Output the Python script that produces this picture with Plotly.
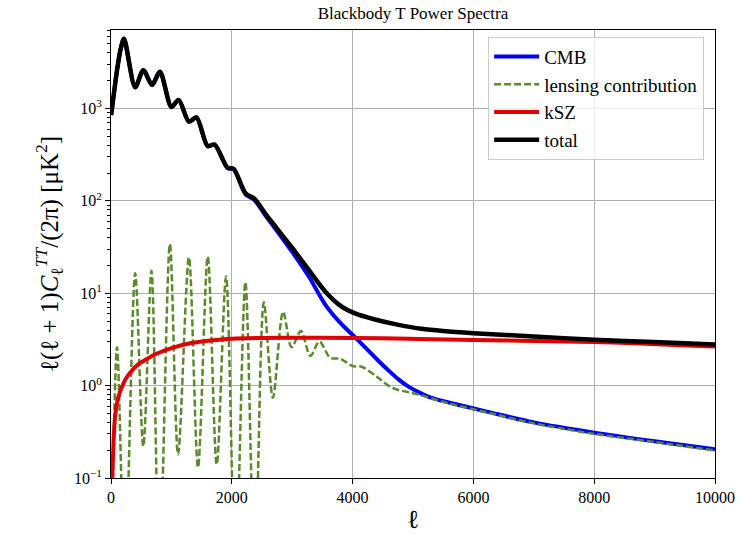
import plotly.graph_objects as go

# ---------------- data ----------------
cmb_ell = [2, 30, 100, 160, 215, 400, 535, 680, 810, 1000, 1120, 1290, 1415, 1600,
           1715, 1930, 2030, 2230, 2370, 2560, 2730, 3000, 3280, 3550, 3820, 4060,
           4430, 4600, 4760, 4920, 5090, 5250, 5420, 5750, 6240, 7000, 8000, 9000, 10000]
cmb_val = [850, 1180, 2600, 4400, 5700, 1700, 2600, 1800, 2500, 1040, 1240, 720, 800, 390,
           405, 226, 220, 117, 103, 69, 49, 28, 15.0, 7.5, 4.6, 3.25,
           1.85, 1.45, 1.17, 0.98, 0.85, 0.76, 0.70, 0.62, 0.52, 0.40, 0.31, 0.25, 0.205]

lens_ell = [5, 100, 230, 400, 535, 670, 800, 975, 1110, 1290, 1440, 1602, 1750, 1905,
            2060, 2225, 2380, 2530, 2680, 2850, 2990, 3145, 3300, 3450, 3630, 3800,
            4000, 4150, 4400, 4650, 5090, 5600, 6240, 7000, 8000, 9000, 10000]
lens_val = [0.01, 2.6, 0.01, 16.5, 0.22, 17.5, 0.01, 34, 0.18, 24.5, 0.13, 25, 0.14, 15.2,
            0.01, 13.2, 0.01, 8.0, 0.74, 6.3, 2.6, 3.9, 2.1, 3.0, 2.0, 1.95,
            1.63, 1.6, 1.25, 0.95, 0.80, 0.64, 0.51, 0.39, 0.30, 0.245, 0.198]

ksz_ell = [5, 30, 66, 120, 176, 250, 340, 450, 600, 724, 1000, 1330, 1700, 2000,
           2800, 3500, 4500, 6000, 8000, 10000]
ksz_val = [0.03, 0.15, 0.45, 0.75, 0.95, 1.2, 1.44, 1.70, 1.95, 2.17, 2.55, 2.89, 3.1, 3.22,
           3.3, 3.3, 3.25, 3.12, 2.97, 2.65]

tot_ell = [2, 30, 100, 160, 215, 400, 535, 680, 810, 1000, 1120, 1290, 1415, 1600,
           1715, 1930, 2030, 2230, 2370, 2560, 2730, 3000, 3280, 3550, 3820, 4040,
           4370, 4760, 5140, 5500, 6000, 7000, 8000, 9000, 10000]
tot_val = [850, 1180, 2600, 4400, 5700, 1700, 2600, 1800, 2500, 1040, 1240, 722, 802, 393,
           408, 229, 223, 120, 106, 72, 52, 31, 17.7, 10.4, 7.15, 6.05,
           5.2, 4.55, 4.12, 3.9, 3.70, 3.41, 3.14, 2.97, 2.78]

x_ticks = [0, 2000, 4000, 6000, 8000, 10000]
x_ticktext = ["0", "2000", "4000", "6000", "8000", "10000"]
y_ticks = [0.1, 1, 10, 100, 1000]
y_ticktext = ["10<sup>\u22121</sup>", "10<sup>0</sup>", "10<sup>1</sup>",
              "10<sup>2</sup>", "10<sup>3</sup>"]

FONT = "Liberation Serif"

fig = go.Figure()
fig.add_trace(go.Scatter(x=cmb_ell, y=cmb_val, mode="lines", name="CMB",
                         line=dict(color="#0000ff", width=4, shape="spline", smoothing=0.8)))
fig.add_trace(go.Scatter(x=lens_ell, y=lens_val, mode="lines", name="lensing contribution",
                         line=dict(color="#5a8a2c", width=2.5, dash="7px,3px",
                                   shape="spline", smoothing=0.9)))
fig.add_trace(go.Scatter(x=ksz_ell, y=ksz_val, mode="lines", name="kSZ",
                         line=dict(color="#e00000", width=4, shape="spline", smoothing=0.8)))
fig.add_trace(go.Scatter(x=tot_ell, y=tot_val, mode="lines", name="total",
                         line=dict(color="#000000", width=4.5, shape="spline", smoothing=0.8)))

minor_vals = [m * 10 ** k for k in range(-1, 4) for m in range(2, 10)]

fig.update_layout(
    width=747, height=540,
    margin=dict(l=111, r=29, t=30, b=57),
    paper_bgcolor="white", plot_bgcolor="white",
    font=dict(family=FONT, size=16, color="black"),
    title=dict(text="Blackbody T Power Spectra", x=0.5, xref="paper",
               y=0.976, yanchor="middle", font=dict(family=FONT, size=17)),
    legend=dict(x=0.982, y=0.985, xanchor="right", yanchor="top",
                bgcolor="rgba(255,255,255,0.8)", bordercolor="#cccccc", borderwidth=1,
                font=dict(family=FONT, size=19), tracegroupgap=0, itemwidth=45),
    xaxis=dict(range=[0, 10000], tickvals=x_ticks, ticktext=x_ticktext,
               ticks="outside", ticklen=5,
               tickcolor="black", showgrid=True, gridcolor="#b0b0b0", gridwidth=1,
               showline=True, linecolor="black", linewidth=1, mirror=True,
               zeroline=False, tickfont=dict(size=16),
               title=dict(text="\u2113", font=dict(size=26), standoff=4)),
    yaxis=dict(type="log", range=[-1, 3.85], tickvals=y_ticks, ticktext=y_ticktext,
               ticks="outside", ticklen=5, tickcolor="black",
               showgrid=True, gridcolor="#b0b0b0", gridwidth=1,
               showline=True, linecolor="black", linewidth=1, mirror=True,
               zeroline=False, tickfont=dict(size=16),
               minor=dict(tickvals=minor_vals, ticks="outside", ticklen=3,
                          tickcolor="black", showgrid=False),
               title=dict(text="\u2113(\u2113 + 1)<i>C</i><sub>\u2113</sub><sup><i>TT</i></sup>/(2\u03c0) [\u03bcK<sup>2</sup>]",
                          font=dict(size=25), standoff=8)),
)

fig.write_html("out.html")
